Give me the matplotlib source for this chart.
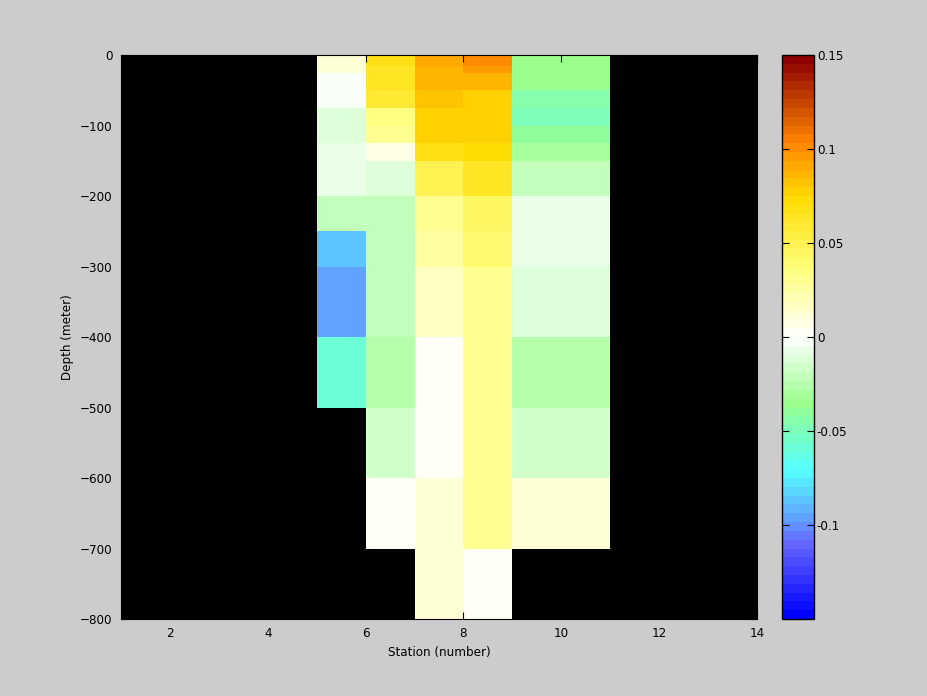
import numpy as np
import matplotlib
matplotlib.use("Agg")
import matplotlib.pyplot as plt
from matplotlib.colors import LinearSegmentedColormap

plt.rcParams['font.family'] = ['DejaVu Sans']
plt.rcParams['font.stretch'] = 'condensed'
plt.rcParams['font.size'] = 9.5

# cell edges
station_edges = np.arange(1, 15)
depth_edges = np.array([0, 15, 25, 50, 75, 100, 125, 150, 200, 250, 300, 400, 500, 600, 700, 800])

nan = np.nan
# values per station column (one per depth layer, top to bottom)
st5 = [0.014, 0.011, -0.003, -0.003, -0.012, -0.012, -0.007, -0.007, -0.022, -0.085, -0.097, -0.060, nan, nan, nan]
st6 = [0.070, 0.065, 0.065, 0.060, 0.035, 0.030, 0.005, -0.012, -0.022, -0.022, -0.022, -0.027, -0.016, 0.002, nan]
st7 = [0.090, 0.088, 0.088, 0.080, 0.075, 0.075, 0.066, 0.050, 0.030, 0.028, 0.015, 0.003, 0.003, 0.014, 0.014]
st8 = [0.102, 0.096, 0.085, 0.077, 0.077, 0.077, 0.072, 0.063, 0.045, 0.040, 0.032, 0.032, 0.032, 0.032, 0.003]
st9 = [-0.033, -0.036, -0.036, -0.045, -0.047, -0.038, -0.032, -0.022, -0.008, -0.008, -0.012, -0.027, -0.016, 0.010, nan]
st10 = st9

Z = np.full((len(depth_edges) - 1, len(station_edges) - 1), np.nan)
for col, vals in zip([4, 5, 6, 7, 8, 9], [st5, st6, st7, st8, st9, st10]):
    Z[:, col] = vals

cmap = LinearSegmentedColormap.from_list("sec", [
    (0.00, (0.00, 0.00, 1.00)),
    (0.08, (0.25, 0.25, 1.00)),
    (0.13, (0.40, 0.40, 1.00)),
    (0.17, (0.38, 0.62, 1.00)),
    (0.26, (0.33, 1.00, 1.00)),
    (0.38, (0.60, 1.00, 0.55)),
    (0.50, (1.00, 1.00, 1.00)),
    (0.62, (1.00, 1.00, 0.50)),
    (0.75, (1.00, 0.86, 0.00)),
    (0.85, (1.00, 0.52, 0.00)),
    (1.00, (0.55, 0.00, 0.00)),
], N=64)

fig = plt.figure(figsize=(9.28, 6.96), dpi=100)
fig.patch.set_facecolor('#cccccc')
ax = fig.add_axes([0.1304, 0.1106, 0.6853, 0.8103])
ax.set_facecolor('black')
m = ax.pcolormesh(station_edges, -depth_edges, np.ma.masked_invalid(Z),
                  cmap=cmap, vmin=-0.15, vmax=0.15)
ax.set_xlim(1, 14)
ax.set_ylim(-800, 0)
ax.set_xticks(np.arange(2, 15, 2))
ax.set_yticks(np.arange(-800, 1, 100))
ax.tick_params(direction='in', top=True, right=True, length=5, pad=6)
ax.set_xlabel("Station (number)")
ax.set_ylabel("Depth (meter)")

cax = fig.add_axes([0.8427, 0.1106, 0.0345, 0.8103])
cb = fig.colorbar(m, cax=cax, ticks=[-0.1, -0.05, 0, 0.05, 0.1, 0.15])
cb.ax.set_yticklabels(['-0.1', '-0.05', '0', '0.05', '0.1', '0.15'])
cb.ax.tick_params(direction='in', left=True, right=True, length=5, pad=2)
cb.outline.set_linewidth(1)

fig.savefig("out.png", dpi=100, facecolor=fig.get_facecolor())
